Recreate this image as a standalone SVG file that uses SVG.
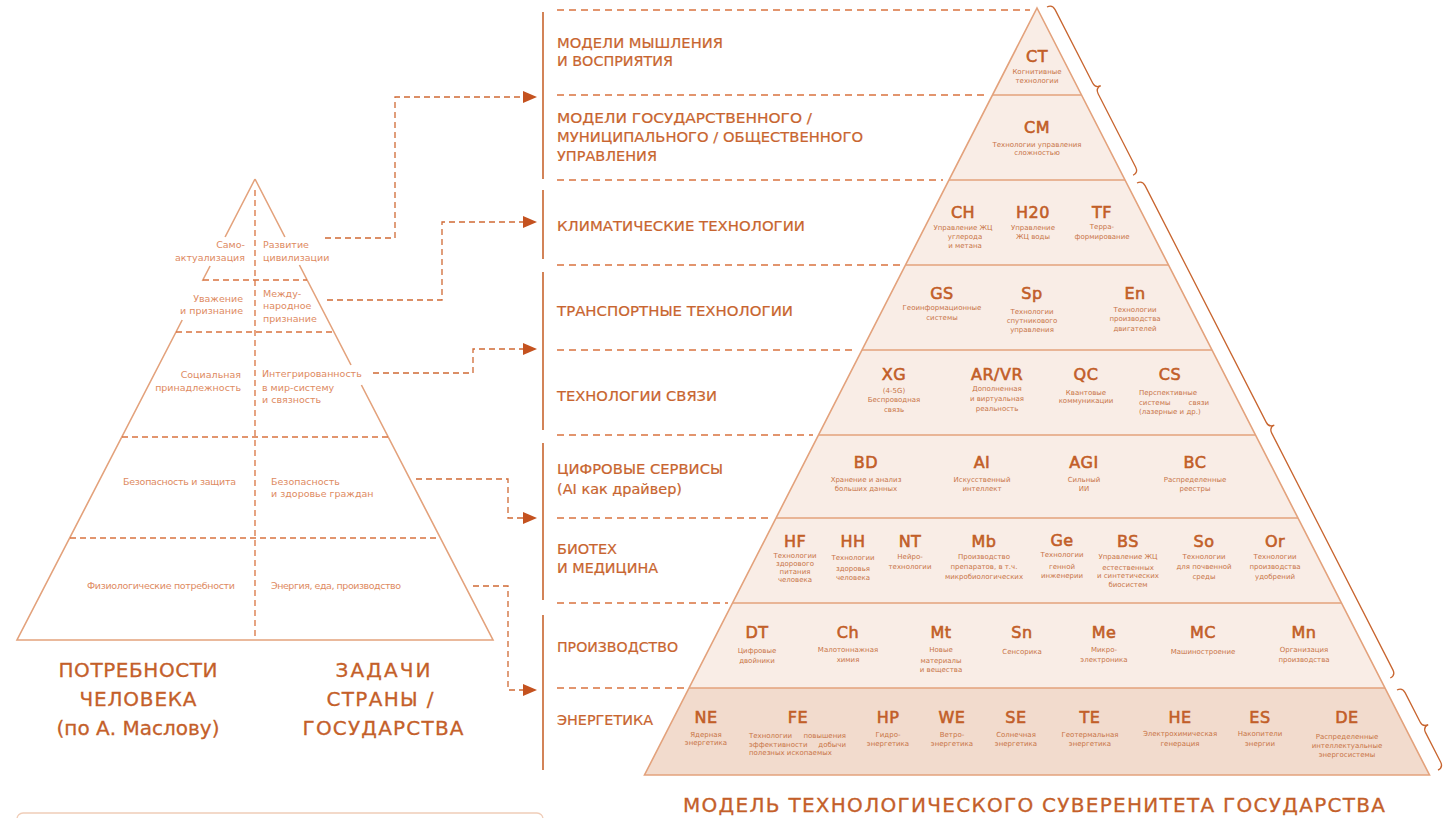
<svg xmlns="http://www.w3.org/2000/svg" width="1453" height="818" viewBox="0 0 1453 818">
<defs>
<style>
text{font-family:"DejaVu Sans","Liberation Sans",sans-serif}
.lbl{font-size:14px;fill:#c8652f;stroke:#c8652f;stroke-width:0.2}
.ttl{font-size:20px;fill:#c45f2a;text-anchor:middle;stroke:#c45f2a;stroke-width:0.3}
.ab{font-size:16px;fill:#c25e28;text-anchor:middle;letter-spacing:0.5px;stroke:#c25e28;stroke-width:0.6}
.ds{font-size:7px;fill:#c87446;text-anchor:middle}
.dsl{font-size:7px;fill:#c87446}
.dse{font-size:7px;fill:#c87446;text-anchor:end}
.lp{font-size:9.5px;fill:#de8a5f}
.lpe{font-size:9.5px;fill:#de8a5f;text-anchor:end}
.side{stroke:#e3a27c;stroke-width:1.6;fill:none}
.row{stroke:#e3a27c;stroke-width:1.4}
.dash{stroke:#d9733f;stroke-width:1.4;stroke-dasharray:7 5;fill:none}
.ldash{stroke:#d9733f;stroke-width:1.3;stroke-dasharray:6 4;fill:none}
.conn{stroke:#d06a35;stroke-width:1.3;stroke-dasharray:6 4;fill:none}
.bar{stroke:#c8652f;stroke-width:1.6}
.brace{stroke:#c8652f;stroke-width:1.3;fill:none}
</style>
<marker id="arr" viewBox="0 0 14 12" refX="0" refY="6" markerWidth="14" markerHeight="12" markerUnits="userSpaceOnUse" orient="auto">
<path d="M0,0 L14,6 L0,12 Z" fill="#c4521f"/>
</marker>
</defs>
<rect width="1453" height="818" fill="#ffffff"/>

<!-- Left pyramid -->
<g id="left-pyramid">
<path class="side" d="M255,179 L225.1,237 M210.1,266 L202.3,281 M182.2,320 L17,640 L493,640 L361.4,385 M351,365 L299.4,265 M284.9,237 L255,179"/>
<path class="ldash" d="M255,190 V640"/>
<path class="ldash" d="M203,280 H307 M176,332 H334 M122,437 H388 M70,538 H436"/>
<text class="lpe" x="245" y="248">Само-</text>
<text class="lpe" x="245" y="261">актуализация</text>
<text class="lp" x="263" y="248">Развитие</text>
<text class="lp" x="263" y="261">цивилизации</text>
<text class="lpe" x="243" y="302">Уважение</text>
<text class="lpe" x="243" y="314">и признание</text>
<text class="lp" x="263" y="297">Между-</text>
<text class="lp" x="263" y="309">народное</text>
<text class="lp" x="263" y="322">признание</text>
<text class="lpe" x="241" y="378">Социальная</text>
<text class="lpe" x="241" y="391">принадлежность</text>
<text class="lp" x="262" y="377">Интегрированность</text>
<text class="lp" x="262" y="391">в мир-систему</text>
<text class="lp" x="262" y="403">и связность</text>
<text class="lp" x="123" y="485" textLength="113">Безопасность и защита</text>
<text class="lp" x="271" y="485">Безопасность</text>
<text class="lp" x="271" y="497">и здоровье граждан</text>
<text class="lp" x="87" y="589" textLength="148">Физиологические потребности</text>
<text class="lp" x="271" y="589" textLength="130">Энергия, еда, производство</text>
</g>

<g id="left-titles">
<text class="ttl" x="138" y="677" textLength="159">ПОТРЕБНОСТИ</text>
<text class="ttl" x="138" y="706" textLength="117">ЧЕЛОВЕКА</text>
<text class="ttl" x="138" y="735" textLength="163">(по А. Маслову)</text>
<text class="ttl" x="383" y="677" textLength="95">ЗАДАЧИ</text>
<text class="ttl" x="380" y="706" textLength="107">СТРАНЫ /</text>
<text class="ttl" x="383" y="735" textLength="161">ГОСУДАРСТВА</text>
</g>
<rect x="17" y="813" width="526" height="30" rx="6" fill="none" stroke="#f0cdb8" stroke-width="1.3"/>

<!-- Connectors -->
<g id="connectors">
<path class="conn" d="M325,238 H395 V97 H523" marker-end="url(#arr)"/>
<path class="conn" d="M327,300 H442 V222 H523" marker-end="url(#arr)"/>
<path class="conn" d="M373,373 H473 V349 H523" marker-end="url(#arr)"/>
<path class="conn" d="M416,479 H508 V518 H523" marker-end="url(#arr)"/>
<path class="conn" d="M473,586 H508 V690 H523" marker-end="url(#arr)"/>
</g>

<!-- Level bars and dashed separators -->
<g id="levels">
<path class="bar" d="M543,12 V179 M543,190 V259 M543,272 V430 M543,443 V600 M543,615 V770"/>
<path class="dash" d="M557,10 H1030 M557,95 H986 M557,180 H943 M557,265 H900 M557,350 H856 M557,435 H813 M557,518 H771 M557,603 H728 M557,688 H684"/>
<text class="lbl" x="557" y="48" textLength="166" lengthAdjust="spacingAndGlyphs">МОДЕЛИ МЫШЛЕНИЯ</text>
<text class="lbl" x="557" y="66" textLength="116" lengthAdjust="spacingAndGlyphs">И ВОСПРИЯТИЯ</text>
<text class="lbl" x="557" y="123" textLength="255" lengthAdjust="spacingAndGlyphs">МОДЕЛИ ГОСУДАРСТВЕННОГО /</text>
<text class="lbl" x="557" y="142" textLength="306" lengthAdjust="spacingAndGlyphs">МУНИЦИПАЛЬНОГО  /  ОБЩЕСТВЕННОГО</text>
<text class="lbl" x="557" y="161" textLength="100" lengthAdjust="spacingAndGlyphs">УПРАВЛЕНИЯ</text>
<text class="lbl" x="557" y="231" textLength="248" lengthAdjust="spacingAndGlyphs">КЛИМАТИЧЕСКИЕ ТЕХНОЛОГИИ</text>
<text class="lbl" x="557" y="316" textLength="236" lengthAdjust="spacingAndGlyphs">ТРАНСПОРТНЫЕ ТЕХНОЛОГИИ</text>
<text class="lbl" x="557" y="401" textLength="160" lengthAdjust="spacingAndGlyphs">ТЕХНОЛОГИИ СВЯЗИ</text>
<text class="lbl" x="557" y="474" textLength="166" lengthAdjust="spacingAndGlyphs">ЦИФРОВЫЕ СЕРВИСЫ</text>
<text class="lbl" x="557" y="494" textLength="125" lengthAdjust="spacingAndGlyphs">(AI как драйвер)</text>
<text class="lbl" x="557" y="554" textLength="60" lengthAdjust="spacingAndGlyphs">БИОТЕХ</text>
<text class="lbl" x="557" y="573" textLength="101" lengthAdjust="spacingAndGlyphs">И МЕДИЦИНА</text>
<text class="lbl" x="557" y="652" textLength="121" lengthAdjust="spacingAndGlyphs">ПРОИЗВОДСТВО</text>
<text class="lbl" x="557" y="725" textLength="96" lengthAdjust="spacingAndGlyphs">ЭНЕРГЕТИКА</text>
</g>

<!-- Right pyramid -->
<g id="right-pyramid">
<path d="M1037,8 L1429.5,775 L644.5,775 Z" fill="#f9ede6"/>
<path d="M689,688 L1385,688 L1429.5,775 L644.5,775 Z" fill="#f2dbcd"/>
<path class="row" d="M992.5,95 H1081.5 M949,180 H1125 M905.5,265 H1168.5 M862,350 H1212 M818.5,435 H1255.5 M776,518 H1298 M732.5,603 H1341.5 M689,688 H1385"/>
<path class="side" d="M1037,8 L1429.5,775 L644.5,775 Z"/>
</g>

<!-- Braces -->
<g id="braces">
<path class="brace" transform="translate(1047,7) rotate(-27.1)" d="M0,0 Q6,0 6,6 L6,88.5 Q6,94.5 12,94.5 Q6,94.5 6,100.5 L6,183 Q6,189 0,189"/>
<path class="brace" transform="translate(1137,183) rotate(-27.1)" d="M0,0 Q6,0 6,6 L6,272 Q6,278 12,278 Q6,278 6,284 L6,550 Q6,556 0,556"/>
<path class="brace" transform="translate(1397,690) rotate(-27.1)" d="M0,0 Q6,0 6,6 L6,39 Q6,45 12,45 Q6,45 6,51 L6,84 Q6,90 0,90"/>
</g>

<!-- Nodes -->
<g id="n-CT"><text class="ab" x="1037" y="62">CT</text><text class="ds" x="1037" y="74">Когнитивные</text><text class="ds" x="1037" y="83">технологии</text></g>
<g id="n-CM"><text class="ab" x="1037" y="133" letter-spacing="3">CM</text><text class="ds" x="1037" y="147">Технологии  управления</text><text class="ds" x="1037" y="155">сложностью</text></g>

<g id="n-CH"><text class="ab" x="963" y="218" letter-spacing="2">CH</text><text class="ds" x="963" y="230">Управление   ЖЦ</text><text class="ds" x="965" y="239">углерода</text><text class="ds" x="965" y="248">и метана</text></g>
<g id="n-H20"><text class="ab" x="1033" y="218">H20</text><text class="ds" x="1033" y="230">Управление</text><text class="ds" x="1033" y="239">ЖЦ воды</text></g>
<g id="n-TF"><text class="ab" x="1102" y="218">TF</text><text class="ds" x="1102" y="229">Терра-</text><text class="ds" x="1102" y="239">формирование</text></g>

<g id="n-GS"><text class="ab" x="942" y="299">GS</text><text class="ds" x="942" y="310">Геоинформационные</text><text class="ds" x="942" y="320">системы</text></g>
<g id="n-Sp"><text class="ab" x="1032" y="299">Sp</text><text class="ds" x="1032" y="314">Технологии</text><text class="ds" x="1032" y="323">спутникового</text><text class="ds" x="1032" y="332">управления</text></g>
<g id="n-En"><text class="ab" x="1135" y="299">En</text><text class="ds" x="1135" y="312">Технологии</text><text class="ds" x="1135" y="321">производства</text><text class="ds" x="1135" y="331">двигателей</text></g>

<g id="n-XG"><text class="ab" x="894" y="380">XG</text><text class="ds" x="894" y="393">(4-5G)</text><text class="ds" x="894" y="402">Беспроводная</text><text class="ds" x="894" y="412">связь</text></g>
<g id="n-ARVR"><text class="ab" x="997" y="380">AR/VR</text><text class="ds" x="997" y="391">Дополненная</text><text class="ds" x="997" y="401">и виртуальная</text><text class="ds" x="997" y="411">реальность</text></g>
<g id="n-QC"><text class="ab" x="1086" y="380">QC</text><text class="ds" x="1086" y="395">Квантовые</text><text class="ds" x="1086" y="403">коммуникации</text></g>
<g id="n-CS"><text class="ab" x="1170" y="380" letter-spacing="3">CS</text><text class="dsl" x="1139" y="395">Перспективные</text><text class="dsl" x="1139" y="405">системы</text><text class="dse" x="1209" y="405">связи</text><text class="dsl" x="1139" y="414">(лазерные  и  др.)</text></g>

<g id="n-BD"><text class="ab" x="866" y="468">BD</text><text class="ds" x="866" y="482">Хранение  и анализ</text><text class="ds" x="866" y="491">больших  данных</text></g>
<g id="n-AI"><text class="ab" x="982" y="468">AI</text><text class="ds" x="982" y="482">Искусственный</text><text class="ds" x="982" y="491">интеллект</text></g>
<g id="n-AGI"><text class="ab" x="1084" y="468">AGI</text><text class="ds" x="1084" y="482">Сильный</text><text class="ds" x="1084" y="491">ИИ</text></g>
<g id="n-BC"><text class="ab" x="1195" y="468">BC</text><text class="ds" x="1195" y="482">Распределенные</text><text class="ds" x="1195" y="491">реестры</text></g>

<g id="n-HF"><text class="ab" x="795" y="547">HF</text><text class="ds" x="795" y="558">Технологии</text><text class="ds" x="795" y="566">здорового</text><text class="ds" x="795" y="574">питания</text><text class="ds" x="795" y="582">человека</text></g>
<g id="n-HH"><text class="ab" x="853" y="547">HH</text><text class="ds" x="853" y="560">Технологии</text><text class="ds" x="853" y="571">здоровья</text><text class="ds" x="853" y="580">человека</text></g>
<g id="n-NT"><text class="ab" x="910" y="547">NT</text><text class="ds" x="910" y="559">Нейро-</text><text class="ds" x="910" y="569">технологии</text></g>
<g id="n-Mb"><text class="ab" x="984" y="547">Mb</text><text class="ds" x="984" y="559">Производство</text><text class="ds" x="984" y="569">препаратов,  в т.ч.</text><text class="ds" x="984" y="579">микробиологических</text></g>
<g id="n-Ge"><text class="ab" x="1062" y="546">Ge</text><text class="ds" x="1062" y="557">Технологии</text><text class="ds" x="1062" y="569">генной</text><text class="ds" x="1062" y="578">инженерии</text></g>
<g id="n-BS"><text class="ab" x="1128" y="547">BS</text><text class="ds" x="1128" y="559">Управление  ЖЦ</text><text class="ds" x="1128" y="570">естественных</text><text class="ds" x="1128" y="578">и синтетических</text><text class="ds" x="1128" y="587">биосистем</text></g>
<g id="n-So"><text class="ab" x="1204" y="547">So</text><text class="ds" x="1204" y="559">Технологии</text><text class="ds" x="1204" y="569">для почвенной</text><text class="ds" x="1204" y="579">среды</text></g>
<g id="n-Or"><text class="ab" x="1275" y="547">Or</text><text class="ds" x="1275" y="559">Технологии</text><text class="ds" x="1275" y="569">производства</text><text class="ds" x="1275" y="579">удобрений</text></g>

<g id="n-DT"><text class="ab" x="757" y="638">DT</text><text class="ds" x="757" y="653">Цифровые</text><text class="ds" x="757" y="663">двойники</text></g>
<g id="n-Ch"><text class="ab" x="848" y="638">Ch</text><text class="ds" x="848" y="652">Малотоннажная</text><text class="ds" x="848" y="662">химия</text></g>
<g id="n-Mt"><text class="ab" x="941" y="638">Mt</text><text class="ds" x="941" y="652">Новые</text><text class="ds" x="941" y="663">материалы</text><text class="ds" x="941" y="672">и вещества</text></g>
<g id="n-Sn"><text class="ab" x="1022" y="638">Sn</text><text class="ds" x="1022" y="654">Сенсорика</text></g>
<g id="n-Me"><text class="ab" x="1104" y="638">Me</text><text class="ds" x="1104" y="652">Микро-</text><text class="ds" x="1104" y="662">электроника</text></g>
<g id="n-MC"><text class="ab" x="1203" y="638" letter-spacing="2">MC</text><text class="ds" x="1203" y="654">Машиностроение</text></g>
<g id="n-Mn"><text class="ab" x="1304" y="638">Mn</text><text class="ds" x="1304" y="652">Организация</text><text class="ds" x="1304" y="662">производства</text></g>

<g id="n-NE"><text class="ab" x="706" y="723">NE</text><text class="ds" x="706" y="737">Ядерная</text><text class="ds" x="706" y="745">энергетика</text></g>
<g id="n-FE"><text class="ab" x="798" y="723">FE</text><text class="dsl" x="749" y="738">Технологии</text><text class="dse" x="846" y="738">повышения</text><text class="dsl" x="749" y="747">эффективности</text><text class="dse" x="846" y="747">добычи</text><text class="dsl" x="749" y="755">полезных  ископаемых</text></g>
<g id="n-HP"><text class="ab" x="888" y="723">HP</text><text class="ds" x="888" y="737">Гидро-</text><text class="ds" x="888" y="746">энергетика</text></g>
<g id="n-WE"><text class="ab" x="952" y="723">WE</text><text class="ds" x="952" y="737">Ветро-</text><text class="ds" x="952" y="746">энергетика</text></g>
<g id="n-SE"><text class="ab" x="1016" y="723">SE</text><text class="ds" x="1016" y="737">Солнечная</text><text class="ds" x="1016" y="746">энергетика</text></g>
<g id="n-TE"><text class="ab" x="1090" y="723">TE</text><text class="ds" x="1090" y="737">Геотермальная</text><text class="ds" x="1090" y="746">энергетика</text></g>
<g id="n-HE"><text class="ab" x="1180" y="723">HE</text><text class="ds" x="1180" y="736">Электрохимическая</text><text class="ds" x="1180" y="746">генерация</text></g>
<g id="n-ES"><text class="ab" x="1260" y="723">ES</text><text class="ds" x="1260" y="736">Накопители</text><text class="ds" x="1260" y="746">энергии</text></g>
<g id="n-DE"><text class="ab" x="1347" y="723">DE</text><text class="ds" x="1347" y="739">Распределенные</text><text class="ds" x="1347" y="748">интеллектуальные</text><text class="ds" x="1347" y="757">энергосистемы</text></g>

<text x="683" y="812" textLength="702" style="font-size:20px;fill:#c45f2a;stroke:#c45f2a;stroke-width:0.3">МОДЕЛЬ ТЕХНОЛОГИЧЕСКОГО СУВЕРЕНИТЕТА ГОСУДАРСТВА</text>
</svg>
